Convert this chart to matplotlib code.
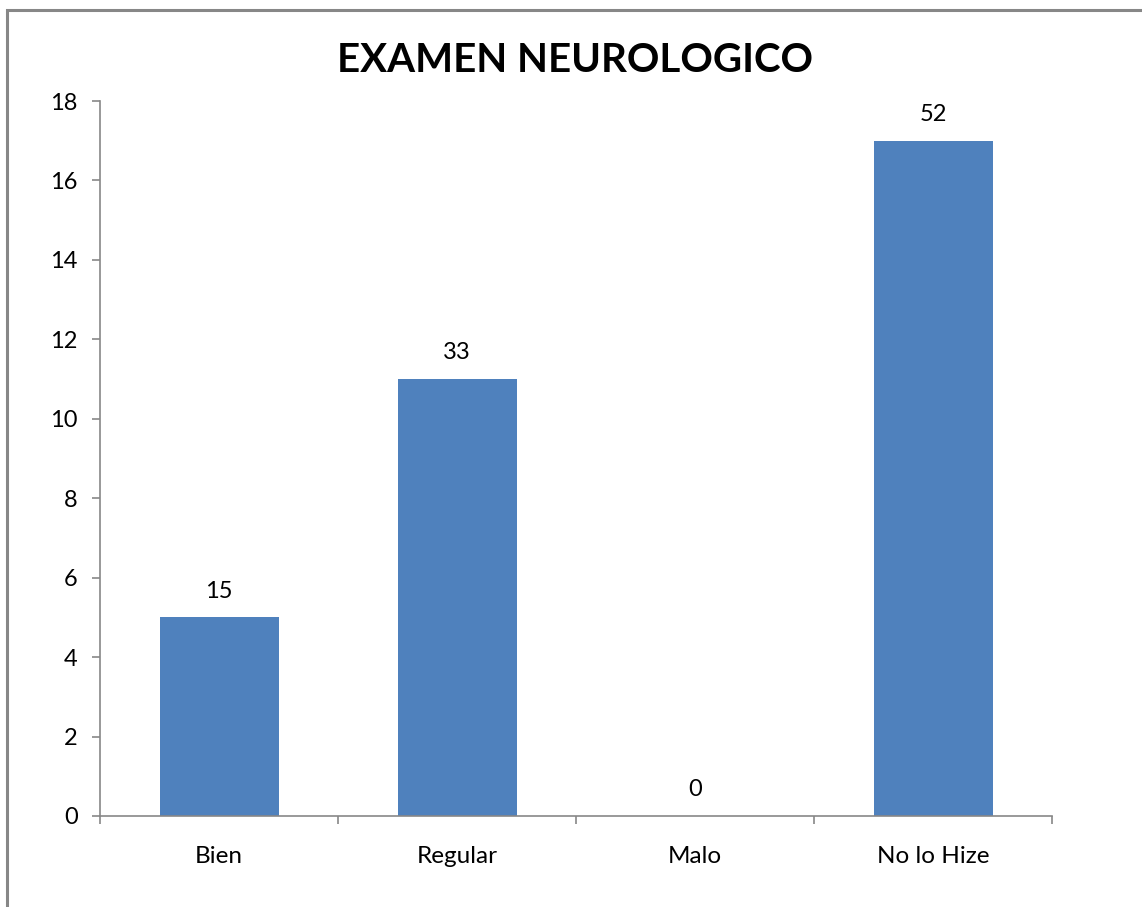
import matplotlib.pyplot as plt
from matplotlib.patches import Rectangle

categories = ['Bien', 'Regular', 'Malo', 'No lo Hize']
counts = [5, 11, 0, 17]
percent_labels = ['15', '33', '0', '52']

plt.rcParams['font.family'] = ['Lato', 'DejaVu Sans']

fig = plt.figure(figsize=(11.42, 9.07), dpi=100)
ax = fig.add_axes([100 / 1142, 1 - 816 / 907, 952 / 1142, 715 / 907])

# outer chart frame (only top and left edges show in the image)
fig.patches.append(Rectangle((6.5 / 1142, -0.1), 1.2, 1 - 9.5 / 907 + 0.1,
                             transform=fig.transFigure, fill=False,
                             edgecolor='#878787', linewidth=2.2))

x = list(range(len(categories)))
ax.bar(x, counts, width=0.5, color='#4f81bd')
for xi, c, lab in zip(x, counts, percent_labels):
    ax.annotate(lab, (xi, c), xytext=(0, 19), textcoords='offset points',
                ha='center', va='center', fontsize=17)

ax.set_xlim(-0.5, 3.5)
ax.set_ylim(0, 18)
ax.set_yticks(range(0, 19, 2))
ax.set_xticks(x)
ax.set_xticklabels(categories, fontsize=17.5)
ax.set_xticks([-0.5, 0.5, 1.5, 2.5, 3.5], minor=True)
ax.tick_params(axis='x', which='major', length=0, pad=21.5)
ax.tick_params(axis='x', which='minor', length=6, width=1.2, color='#878787', direction='out')
ax.tick_params(axis='y', length=6, width=1.2, color='#878787', labelsize=17, pad=10)

for s in ['top', 'right']:
    ax.spines[s].set_visible(False)
for s in ['left', 'bottom']:
    ax.spines[s].set_color('#878787')
    ax.spines[s].set_linewidth(1.2)

fig.text(575 / 1142, 1 - 61 / 907, 'EXAMEN NEUROLOGICO', ha='center', va='center',
         fontsize=29, fontweight='bold')

fig.savefig('out.png', dpi=100)
